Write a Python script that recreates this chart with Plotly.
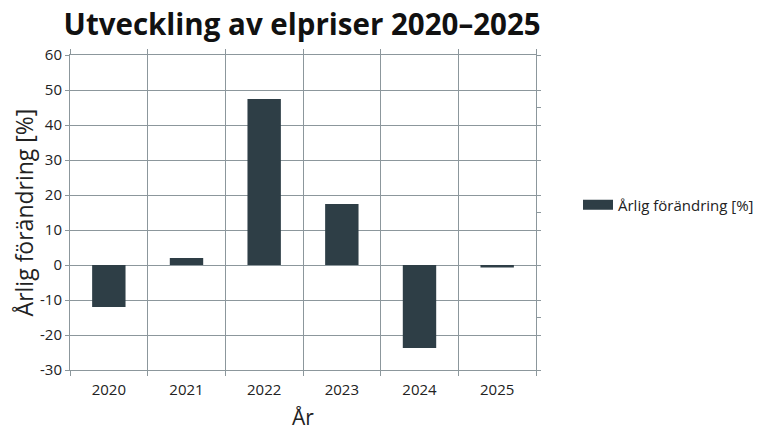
import plotly.graph_objects as go

# Data
years = ['2020', '2021', '2022', '2023', '2024', '2025']
change_pct = [-12, 2, 47.4, 17.4, -23.7, -0.7]

y_ticks = [-30, -20, -10, 0, 10, 20, 30, 40, 50, 60]
y_tick_labels = ['-30', '-20', '-10', '0', '10', '20', '30', '40', '50', '60']

bar_color = '#2e3e46'
grid_color = '#8c979c'

fig = go.Figure()
fig.add_trace(go.Bar(x=years, y=change_pct, name='Årlig förändring [%]',
                     marker=dict(color=bar_color, line=dict(width=0)),
                     showlegend=False, legendgroup='a'))
# legend entry drawn as a wide flat rectangle
fig.add_trace(go.Scatter(x=[years[0]], y=[None], mode='lines', name='Årlig förändring [%]',
                         line=dict(color=bar_color, width=10), legendgroup='a',
                         hoverinfo='skip'))
# unlabelled secondary axis (only short tick marks on the right)
fig.add_trace(go.Scatter(x=years, y=[None] * len(years), yaxis='y2',
                         showlegend=False, hoverinfo='skip'))

fig.update_layout(
    width=768, height=433,
    font=dict(family='Open Sans', color='#222222', size=15),
    paper_bgcolor='white', plot_bgcolor='white',
    title=dict(text='<b>Utveckling av elpriser 2020–2025</b>', x=0.383, xanchor='center',
               y=0.962, yanchor='middle', font=dict(size=29.5, color='#111111')),
    margin=dict(l=62, r=240, t=47, b=71),
    bargap=0.57,
    xaxis=dict(type='category', tickson='boundaries', showgrid=True, gridcolor=grid_color,
               gridwidth=1, ticks='outside', ticklen=5, tickcolor=grid_color,
               showline=True, linecolor=grid_color, mirror='ticks',
               tickfont=dict(size=15), ticklabelstandoff=6,
               title=dict(text='År', font=dict(size=21), standoff=12)),
    yaxis=dict(range=[-30, 60], tickvals=y_ticks, ticktext=y_tick_labels,
               showgrid=True, gridcolor=grid_color, gridwidth=1,
               zeroline=False, ticks='outside', ticklen=4, tickcolor=grid_color,
               showline=True, linecolor=grid_color, mirror='ticks',
               tickfont=dict(size=15),
               title=dict(text='Årlig förändring [%]', font=dict(size=23), standoff=4)),
    yaxis2=dict(range=[-30, 60], overlaying='y', side='right', tickvals=[-15, 15, 45],
                showticklabels=False, ticks='outside', ticklen=4, tickcolor=grid_color,
                showgrid=False, zeroline=False, showline=False, automargin=False),
    # legend placed in container coordinates so it doesn't squeeze the plot
    legend=dict(x=570 / 768, xref='container', y=0.524, xanchor='left', yanchor='middle',
                font=dict(size=15), itemwidth=30, tracegroupgap=0),
)

fig.write_html('out.html')
